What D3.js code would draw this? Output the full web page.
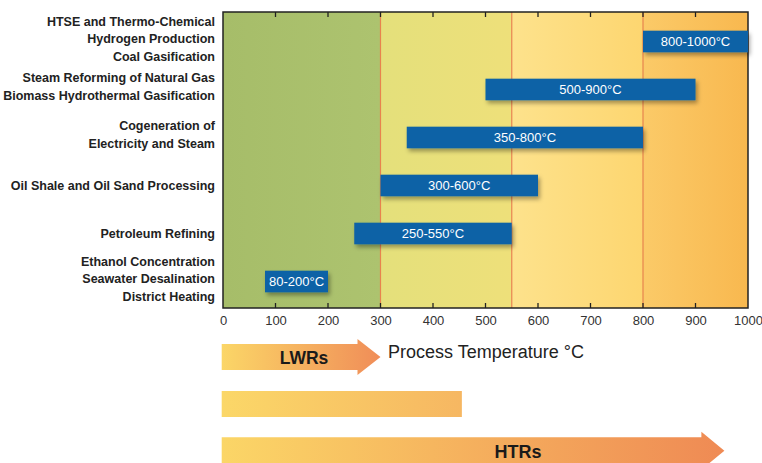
<!DOCTYPE html>
<html>
<head>
<meta charset="utf-8">
<script src="https://cdn.jsdelivr.net/npm/d3@7"></script>
<style>
  html, body { margin: 0; padding: 0; background: #fff; }
  svg { display: block; font-family: "Liberation Sans", Arial, Helvetica, sans-serif; }
</style>
</head>
<body>
<svg id="chart" width="762" height="463"></svg>
<script>
// ---- data ----
const categories = [
  ["HTSE and Thermo-Chemical", "Hydrogen Production", "Coal Gasification"],
  ["Steam Reforming of Natural Gas", "Biomass Hydrothermal Gasification"],
  ["Cogeneration of", "Electricity and Steam"],
  ["Oil Shale and Oil Sand Processing"],
  ["Petroleum Refining"],
  ["Ethanol Concentration", "Seawater Desalination", "District Heating"]
];
const rangeLow  = [800, 500, 350, 300, 250, 80];
const rangeHigh = [1000, 900, 800, 600, 550, 200];
const rangeLabels = ["800-1000°C", "500-900°C", "350-800°C", "300-600°C", "250-550°C", "80-200°C"];
const xTicks = [0, 100, 200, 300, 400, 500, 600, 700, 800, 900, 1000];
const zoneEdges = [0, 300, 550, 800, 1000];
const reactorNames = ["LWRs", "", "HTRs"];
const reactorEnds = [300, 455, 955];
const reactorArrow = [true, false, true];

// ---- layout ----
const svg = d3.select("#chart");
const plot = { left: 223, right: 748, top: 12, bottom: 308 };
const x = d3.scaleLinear().domain([0, 1000]).range([plot.left, plot.right]);
const ids = categories.map((d, i) => i);
const y = d3.scaleBand().domain(ids).range([17.5, 305.5]).paddingInner(0.55).paddingOuter(0.275);

const defs = svg.append("defs");
function lin(id, stops, x2 = "100%", y2 = "0%") {
  const g = defs.append("linearGradient").attr("id", id)
    .attr("x1", "0%").attr("y1", "0%").attr("x2", x2).attr("y2", y2);
  stops.forEach(([o, c]) => g.append("stop").attr("offset", o).attr("stop-color", c));
}
const zoneStops = [
  [["0%", "#a6bd69"], ["100%", "#adc36f"]],
  [["0%", "#e4e07b"], ["100%", "#eee07a"]],
  [["0%", "#fde28c"], ["100%", "#fdd670"]],
  [["0%", "#fbca68"], ["100%", "#f8b84f"]]
];
zoneStops.forEach((s, i) => lin("zone" + i, s));
lin("lwr", [["0%", "#fbd667"], ["100%", "#f08d58"]]);
lin("mid", [["0%", "#fbd768"], ["100%", "#f6b762"]]);
lin("htr", [["0%", "#fbd667"], ["100%", "#ef8a54"]]);
const reactorGrads = ["lwr", "mid", "htr"];

const sh = defs.append("filter").attr("id", "shadow")
  .attr("x", "-10%").attr("y", "-30%").attr("width", "130%").attr("height", "180%");
sh.append("feDropShadow").attr("dx", 2).attr("dy", 3).attr("stdDeviation", 2)
  .attr("flood-color", "#000").attr("flood-opacity", 0.35);

// zones
const zones = d3.range(zoneEdges.length - 1);
svg.append("g").selectAll("rect").data(zones).join("rect")
  .attr("x", i => x(zoneEdges[i]))
  .attr("y", plot.top)
  .attr("width", i => x(zoneEdges[i + 1]) - x(zoneEdges[i]))
  .attr("height", plot.bottom - plot.top)
  .attr("fill", i => `url(#zone${i})`);

// zone boundaries
svg.append("g").selectAll("line").data(zoneEdges.slice(1, -1)).join("line")
  .attr("x1", d => x(d)).attr("x2", d => x(d))
  .attr("y1", plot.top).attr("y2", plot.bottom)
  .attr("stroke", "#e8834e").attr("stroke-width", 1.2);

// axes (inward ticks)
const inner = xTicks.slice(1, -1);
const bottomAxis = d3.axisBottom(x).tickValues(xTicks).tickFormat(d3.format("d")).tickSize(0).tickPadding(8);
const gb = svg.append("g").attr("transform", `translate(0,${plot.bottom})`).call(bottomAxis);
gb.select(".domain").remove();
gb.selectAll("text").attr("font-size", 13).attr("fill", "#333")
  .attr("font-family", "Liberation Sans, Arial, sans-serif");

svg.append("g").selectAll("line").data(inner).join("line")
  .attr("x1", d => x(d)).attr("x2", d => x(d))
  .attr("y1", plot.bottom).attr("y2", plot.bottom - 5)
  .attr("stroke", "#222").attr("stroke-width", 1.3);
svg.append("g").selectAll("line").data(inner).join("line")
  .attr("x1", d => x(d)).attr("x2", d => x(d))
  .attr("y1", plot.top).attr("y2", plot.top + 5)
  .attr("stroke", "#222").attr("stroke-width", 1.3);

// frame
svg.append("rect")
  .attr("x", plot.left).attr("y", plot.top)
  .attr("width", plot.right - plot.left).attr("height", plot.bottom - plot.top)
  .attr("fill", "none").attr("stroke", "#222").attr("stroke-width", 1.5);

// bars
const bars = svg.append("g").selectAll("g").data(ids).join("g");
bars.append("rect")
  .attr("x", i => x(rangeLow[i]))
  .attr("y", i => y(i))
  .attr("width", i => x(rangeHigh[i]) - x(rangeLow[i]))
  .attr("height", y.bandwidth())
  .attr("fill", "#0c62a6")
  .attr("filter", "url(#shadow)");
bars.append("text")
  .attr("x", i => (x(rangeLow[i]) + x(rangeHigh[i])) / 2)
  .attr("y", i => y(i) + y.bandwidth() / 2)
  .attr("dy", "0.36em")
  .attr("text-anchor", "middle")
  .attr("fill", "#fff")
  .attr("font-size", 13)
  .text(i => rangeLabels[i]);

// category labels
const lineH = 17.5;
const lab = svg.append("g").selectAll("text").data(ids).join("text")
  .attr("text-anchor", "end")
  .attr("font-weight", "bold")
  .attr("font-size", 12.5)
  .attr("fill", "#222");
lab.each(function (i) {
  const lines = categories[i];
  const cy = y(i) + y.bandwidth() / 2 - (lines.length > 1 ? 3 : 0);
  const t = d3.select(this);
  lines.forEach((ln, k) => {
    t.append("tspan")
      .attr("x", 215)
      .attr("y", cy + (k - (lines.length - 1) / 2) * lineH)
      .attr("dy", "0.36em")
      .text(ln);
  });
});

// axis title
svg.append("text")
  .attr("x", 388).attr("y", 352).attr("dy", "0.36em")
  .attr("font-size", 18).attr("fill", "#222")
  .text("Process Temperature °C");

// reactor arrows
const rowY = [357, 404, 450.7];
const bodyH = [26, 26, 27];
const headH = [36, 0, 38];
const headL = 23;
reactorEnds.forEach((end, i) => {
  const x0 = x(0) - 1.3, x1 = x(end);
  const cy = rowY[i], bh = bodyH[i] / 2, hh = headH[i] / 2;
  let path;
  if (reactorArrow[i]) {
    path = `M${x0},${cy - bh} L${x1 - headL},${cy - bh} L${x1 - headL},${cy - hh} L${x1},${cy} L${x1 - headL},${cy + hh} L${x1 - headL},${cy + bh} L${x0},${cy + bh} Z`;
  } else {
    path = `M${x0},${cy - bh} L${x1},${cy - bh} L${x1},${cy + bh} L${x0},${cy + bh} Z`;
  }
  svg.append("path").attr("d", path).attr("fill", `url(#${reactorGrads[i]})`);
  if (reactorNames[i]) {
    svg.append("text")
      .attr("x", i === 0 ? 304 : 518).attr("y", cy + 1).attr("dy", "0.36em")
      .attr("text-anchor", "middle")
      .attr("font-weight", "bold")
      .attr("font-size", i === 0 ? 17.5 : 18)
      .attr("fill", "#1a1a1a")
      .text(reactorNames[i]);
  }
});
</script>
</body>
</html>
